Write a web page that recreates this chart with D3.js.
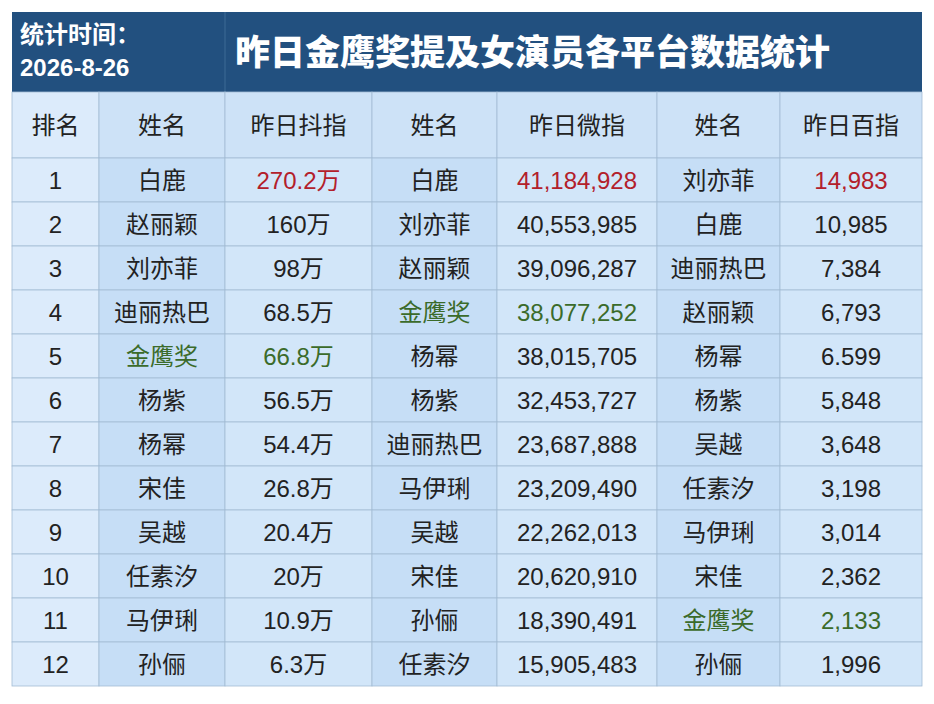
<!DOCTYPE html>
<html><head><meta charset="utf-8">
<script src="https://cdn.jsdelivr.net/npm/d3@7"></script>
<style>body{margin:0;background:#fff;}text{font-family:"Liberation Sans","Noto Sans CJK SC",sans-serif;}</style>
</head><body><svg id="chart" width="934" height="704"></svg>
<script>
var title = '昨日金鹰奖提及女演员各平台数据统计';
var dateLabel = ['统计时间：', '2026-8-26'];
var headers = ['排名', '姓名', '昨日抖指', '姓名', '昨日微指', '姓名', '昨日百指'];
var ranks = [1, 2, 3, 4, 5, 6, 7, 8, 9, 10, 11, 12];
var douyinNames = ['白鹿', '赵丽颖', '刘亦菲', '迪丽热巴', '金鹰奖', '杨紫', '杨幂', '宋佳', '吴越', '任素汐', '马伊琍', '孙俪'];
var douyinVals = ['270.2万', '160万', '98万', '68.5万', '66.8万', '56.5万', '54.4万', '26.8万', '20.4万', '20万', '10.9万', '6.3万'];
var weiboNames = ['白鹿', '刘亦菲', '赵丽颖', '金鹰奖', '杨幂', '杨紫', '迪丽热巴', '马伊琍', '吴越', '宋佳', '孙俪', '任素汐'];
var weiboVals = ['41,184,928', '40,553,985', '39,096,287', '38,077,252', '38,015,705', '32,453,727', '23,687,888', '23,209,490', '22,262,013', '20,620,910', '18,390,491', '15,905,483'];
var baiduNames = ['刘亦菲', '白鹿', '迪丽热巴', '赵丽颖', '杨幂', '杨紫', '吴越', '任素汐', '马伊琍', '宋佳', '金鹰奖', '孙俪'];
var baiduVals = ['14,983', '10,985', '7,384', '6,793', '6.599', '5,848', '3,648', '3,198', '3,014', '2,362', '2,133', '1,996'];

var svg = d3.select('#chart');
var colEdges = [12, 99, 225, 372, 497, 657, 780, 922];
var colFill = ['#dcebfb', '#c6def6', '#d2e6f9', '#c6def6', '#d2e6f9', '#c6def6', '#d2e6f9'];

// header band
svg.append('rect').attr('x', 12).attr('y', 12).attr('width', 910).attr('height', 80).attr('fill', '#22507f');
svg.append('line').attr('x1', 225).attr('x2', 225).attr('y1', 12).attr('y2', 92).attr('stroke', '#3d6a96');
dateLabel.forEach(function (t, i) {
  svg.append('text').attr('x', 20).attr('y', 43 + i * 33).attr('fill', '#fff')
    .attr('font-size', 24).attr('font-weight', 'bold').text(t);
});
svg.append('text').attr('x', 235).attr('y', 65).attr('fill', '#fff')
  .attr('font-size', 35).attr('font-weight', 900).text(title);

var rowY = function (i) { return i === 0 ? 92 : 158 + (i - 1) * 44; };
var rowH = function (i) { return i === 0 ? 66 : 44; };

var rows = [headers].concat(ranks.map(function (r, i) {
  return [r, douyinNames[i], douyinVals[i], weiboNames[i], weiboVals[i], baiduNames[i], baiduVals[i]];
}));

rows.forEach(function (row, ri) {
  var g = svg.append('g');
  row.forEach(function (cell, ci) {
    var x0 = colEdges[ci], x1 = colEdges[ci + 1];
    g.append('rect').attr('x', x0).attr('y', rowY(ri)).attr('width', x1 - x0).attr('height', rowH(ri))
      .attr('fill', ri === 0 ? (ci === 0 ? '#dcebfb' : '#cde2f7') : colFill[ci])
      .attr('stroke', '#a3bcd4').attr('stroke-width', 0.8);
    var color = '#222';
    if (ri > 0) {
      if (ci % 2 === 0 && ci > 0 && ri === 1) color = '#b3202b';
      var nm = row[ci % 2 === 0 && ci > 0 ? ci - 1 : ci];
      if (ci > 0 && nm === '金鹰奖') color = '#3b6b2a';
    }
    g.append('text').attr('x', (x0 + x1) / 2).attr('y', rowY(ri) + rowH(ri) / 2 + 9)
      .attr('text-anchor', 'middle').attr('font-size', 24)
      .attr('fill', color).text(cell);
  });
});
</script></body></html>
